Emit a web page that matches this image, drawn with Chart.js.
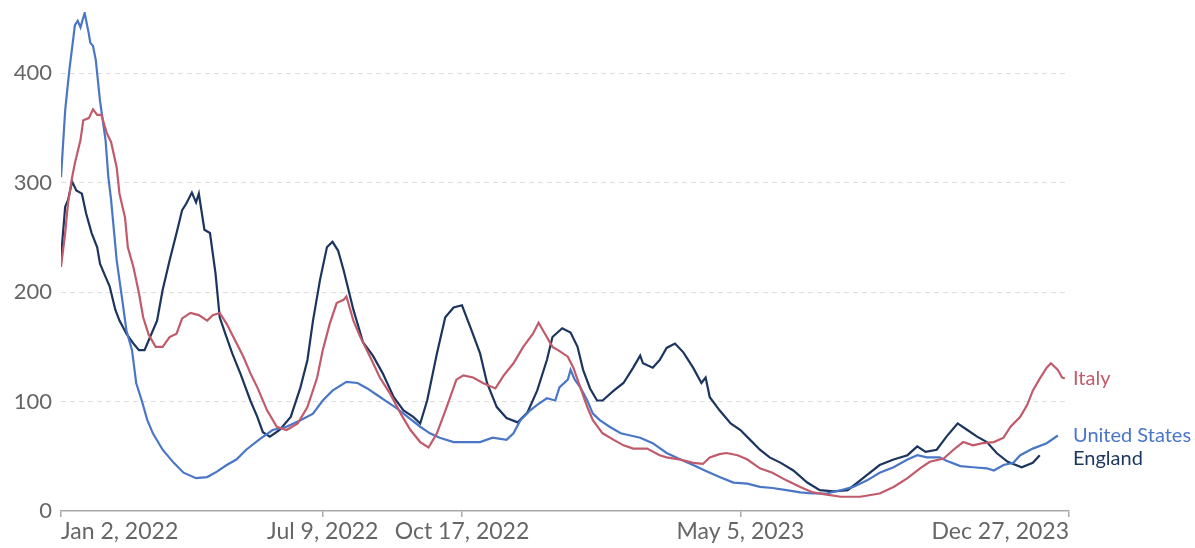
<!DOCTYPE html>
<html>
<head>
<meta charset="utf-8">
<script src="https://cdn.jsdelivr.net/npm/chart.js@4.4.1/dist/chart.umd.min.js"></script>
<style>
  html, body { margin: 0; padding: 0; background: #fff; }
  #wrap { width: 1195px; height: 548px; position: relative; }
</style>
</head>
<body>
<div id="wrap"><canvas id="chart" width="1195" height="548"></canvas></div>
<script>
// days counted from Jan 2, 2022
const tickDays = [0, 188, 288, 488, 724];
const tickLabels = ['Jan 2, 2022', 'Jul 9, 2022', 'Oct 17, 2022', 'May 5, 2023', 'Dec 27, 2023'];
const yTicks = [0, 100, 200, 300, 400];

const usDays = [0,3,5,6,10,12,14,16,17,20,21,23,25,28,29,32,34,36,40,44,47,51,54,58,62,66,73,81,88,97,105,112,119,126,133,143,152,162,172,181,188,195,205,213,220,227,234,241,249,258,265,272,282,292,301,310,320,325,330,337,342,349,355,358,364,366,369,373,378,382,387,394,402,409,416,425,435,445,454,464,473,483,493,502,511,521,531,540,550,560,569,579,588,598,608,615,622,631,636,646,655,665,670,677,684,689,698,708,716];
const usVals = [305,366,391,403,444,448,442,451,455,436,428,425,412,375,366,339,305,284,229,193,165,147,117,101,83,71,56,44,35,30,31,36,42,47,56,66,74,77,83,89,101,110,118,117,112,106,100,94,86,77,71,67,63,63,63,67,65,71,83,92,97,103,101,113,120,129,120,113,101,89,83,77,71,69,67,62,53,47,42,36,31,26,25,22,21,19,17,16,16,19,22,28,35,40,47,51,49,49,46,41,40,39,37,42,44,51,57,62,69];

const italyDays = [0,3,5,8,10,14,16,20,23,26,29,33,36,40,42,46,48,52,56,59,63,68,73,78,83,87,93,99,105,109,114,119,125,131,136,141,148,155,162,170,177,184,188,193,198,203,205,210,215,222,229,236,244,251,258,264,270,277,284,289,296,303,312,318,325,332,339,343,348,353,357,364,368,373,378,382,389,397,404,411,421,430,435,445,454,461,466,473,478,486,493,502,511,521,531,540,550,560,574,588,598,608,617,624,634,641,648,655,662,670,677,682,689,694,698,703,708,711,716,719,721];
const italyVals = [223,254,281,305,318,339,357,359,367,362,362,345,337,314,290,268,241,223,199,177,161,150,150,159,162,176,181,179,174,179,181,171,156,141,126,113,92,77,74,80,95,122,147,171,190,193,196,174,159,141,122,108,89,74,63,58,71,95,120,124,122,117,112,124,135,150,162,172,161,150,147,141,131,113,95,83,71,65,60,57,57,51,49,47,44,43,49,52,53,51,47,39,35,28,22,17,15,13,13,16,22,30,39,45,48,56,63,60,62,63,67,77,86,97,110,121,131,135,129,122,121];

const englandDays = [0,3,5,8,11,15,18,22,26,28,32,35,39,42,47,52,56,60,64,69,73,78,83,87,90,94,97,99,103,107,111,114,118,123,129,136,141,145,150,157,165,172,177,181,186,191,195,199,203,210,217,224,231,239,246,253,258,263,270,276,282,288,294,301,306,313,320,328,335,342,349,353,360,366,371,375,380,385,389,397,404,411,416,418,425,430,435,441,447,454,460,463,466,473,481,488,495,502,509,517,526,536,545,555,565,572,579,588,598,608,615,621,629,636,644,651,658,665,672,680,690,698,703];
const englandVals = [232,278,284,301,293,290,272,254,241,226,214,205,184,174,162,153,147,147,159,174,202,229,254,275,281,291,282,290,257,254,217,177,162,144,125,101,86,72,68,74,86,113,138,174,211,241,246,238,220,184,154,142,126,104,92,86,80,101,144,177,186,188,168,144,117,95,85,81,90,110,138,159,167,163,150,129,112,101,101,110,117,131,142,135,131,138,149,153,145,131,117,122,104,92,80,74,65,56,49,44,37,26,19,18,19,26,33,42,47,51,59,54,56,68,80,74,68,63,53,45,40,44,51];

const seriesNames = ['Italy', 'United States', 'England'];
const seriesColors = ['#c15a6b', '#4a76c7', '#1b355e'];

function pts(days, vals) {
    return days.map((d, i) => ({ x: d, y: vals[i] }));
}

const data = {
    datasets: [
        { label: seriesNames[0], data: pts(italyDays, italyVals), borderColor: seriesColors[0] },
        { label: seriesNames[1], data: pts(usDays, usVals), borderColor: seriesColors[1] },
        { label: seriesNames[2], data: pts(englandDays, englandVals), borderColor: seriesColors[2] }
    ]
};

//etiquetas al final de cada linea
const endLabels = {
    id: 'endLabels',
    afterDatasetsDraw(chart) {
        const { ctx, chartArea: { right }, scales: { y } } = chart;
        const items = chart.data.datasets.map((ds, i) => {
            const last = ds.data[ds.data.length - 1];
            return { text: ds.label, color: ds.borderColor, y: y.getPixelForValue(last.y) };
        });
        items.sort((a, b) => a.y - b.y);
        for (let k = 1; k < items.length; k++) {
            if (items[k].y - items[k - 1].y < 23) items[k].y = items[k - 1].y + 23;
        }
        ctx.save();
        ctx.font = '20px Lato';
        ctx.textBaseline = 'middle';
        ctx.textAlign = 'left';
        items.forEach(it => {
            ctx.fillStyle = it.color;
            ctx.fillText(it.text, right + 4, it.y);
        });
        ctx.restore();
    }
};

const config = {
    type: 'line',
    data,
    options: {
        responsive: false,
        animation: false,
        layout: { padding: { top: 12, right: 126, bottom: 0, left: 0 } },
        elements: {
            point: { radius: 0 },
            line: { borderWidth: 2.2, tension: 0 }
        },
        plugins: {
            legend: { display: false },
            tooltip: { enabled: false }
        },
        scales: {
            x: {
                type: 'linear',
                min: 0,
                max: 724,
                afterBuildTicks: axis => { axis.ticks = tickDays.map(v => ({ value: v })); },
                afterFit: axis => { axis.height = 37; axis.paddingLeft = 0; axis.paddingRight = 0; },
                ticks: {
                    autoSkip: false,
                    maxRotation: 0,
                    align: 'inner',
                    padding: 1,
                    color: '#666',
                    font: { family: 'Lato', size: 23 }
                    ,callback: (v) => tickLabels[tickDays.indexOf(v)]
                },
                grid: {
                    drawOnChartArea: false,
                    drawTicks: true,
                    tickLength: 6,
                    color: '#aaa',
                    lineWidth: 1.5
                },
                border: { display: true, color: '#aaa', width: 1.5 }
            },
            y: {
                min: 0,
                max: 456,
                afterBuildTicks: axis => { axis.ticks = yTicks.map(v => ({ value: v })); },
                afterFit: axis => { axis.width = 61; axis.paddingTop = 0; axis.paddingBottom = 0; },
                ticks: {
                    padding: 9,
                    color: '#666',
                    font: { family: 'Lato', size: 22 }
                },
                grid: {
                    drawTicks: false,
                    color: c => (c.tick && c.tick.value === 0) ? 'rgba(0,0,0,0)' : '#dddddd',
                    lineWidth: 1
                },
                border: { display: false, dash: [5, 4] }
            }
        }
    },
    plugins: [endLabels]
};

var chart = document.getElementById('chart');
var myChart = new Chart(chart, config);
</script>
</body>
</html>
